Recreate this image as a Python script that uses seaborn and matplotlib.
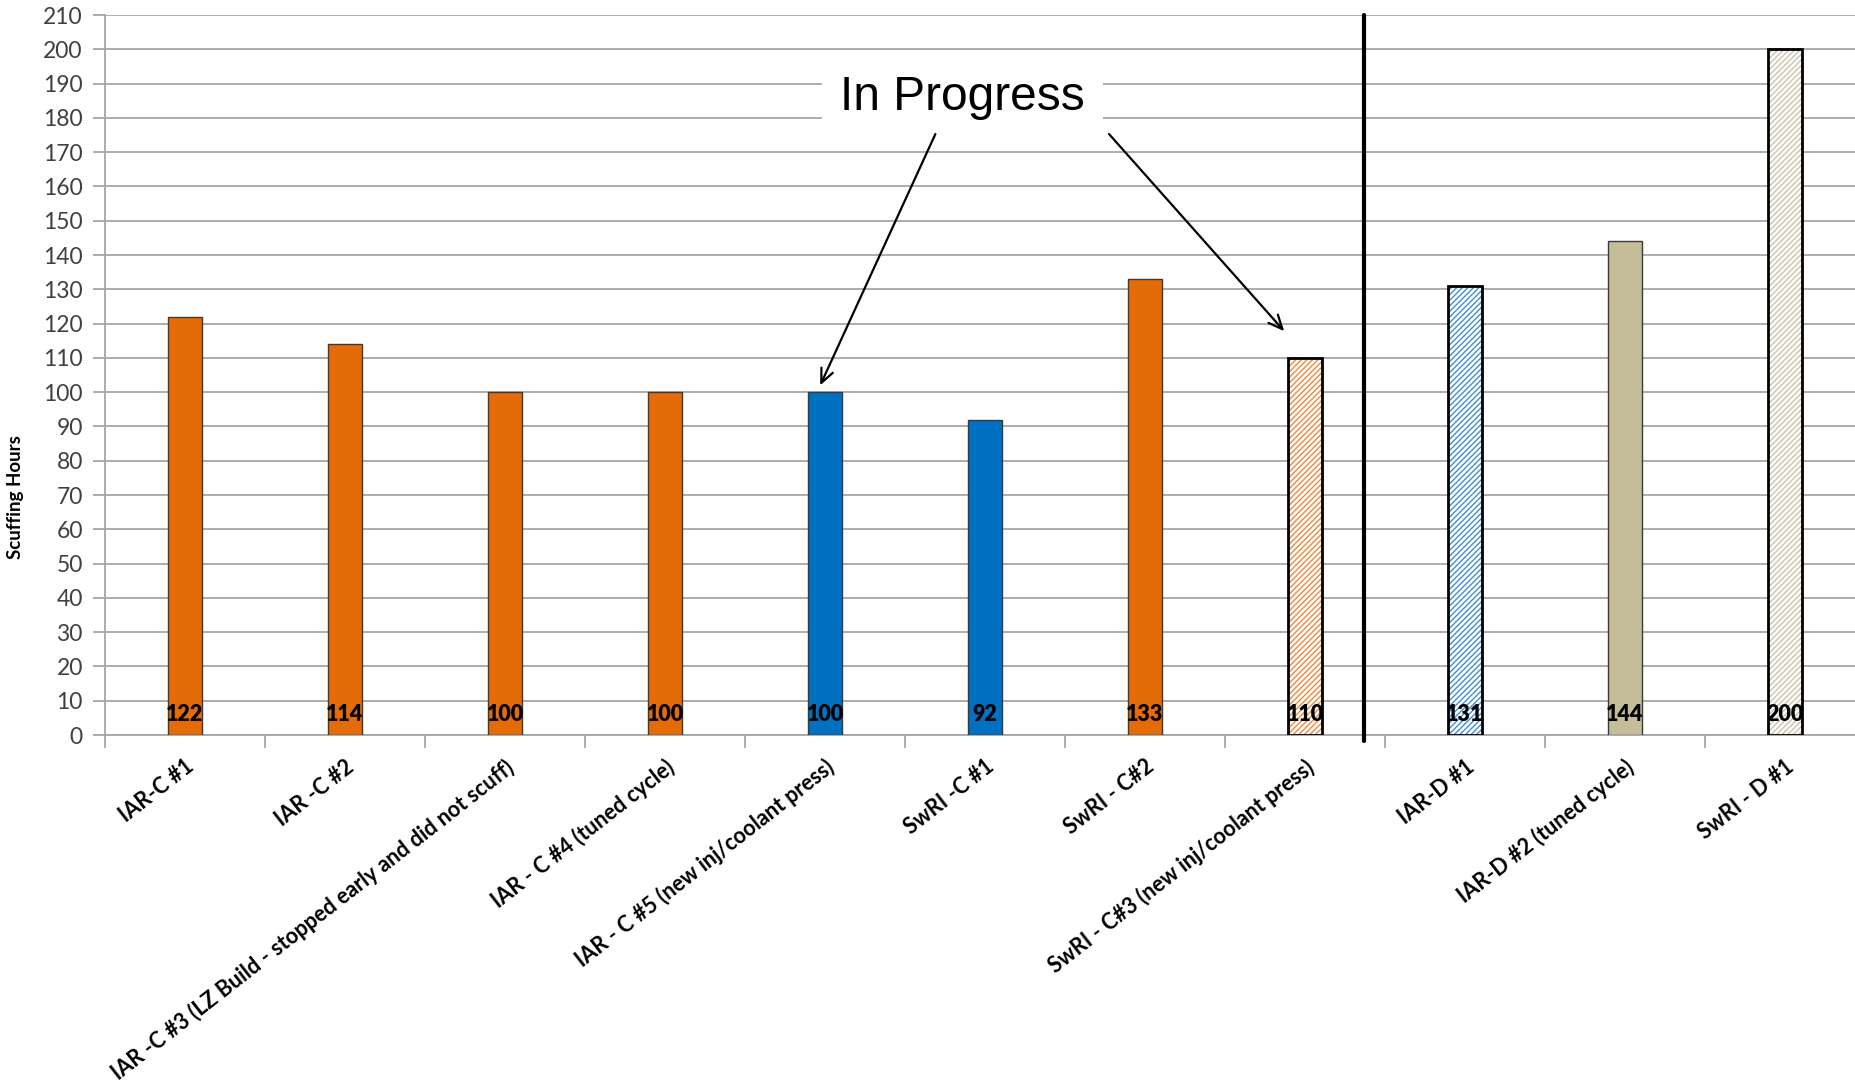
import matplotlib
matplotlib.use("Agg")
import matplotlib.pyplot as plt
from matplotlib.patches import Rectangle
import seaborn as sns
import pandas as pd

categories = [
    "IAR-C #1",
    "IAR -C #2",
    "IAR -C #3 (LZ Build - stopped early and did not scuff)",
    "IAR - C #4 (tuned cycle)",
    "IAR - C #5 (new inj/coolant press)",
    "SwRI -C #1",
    "SwRI - C#2",
    "SwRI - C#3 (new inj/coolant press)",
    "IAR-D #1",
    "IAR-D #2 (tuned cycle)",
    "SwRI - D #1",
]
hours = [122, 114, 100, 100, 100, 92, 133, 110, 131, 144, 200]

fill_colors = ["#E36C09", "#E36C09", "#E36C09", "#E36C09", "#0070C0", "#0070C0",
               "#E36C09", "#FFFFFF", "#FFFFFF", "#C4BD97", "#FFFFFF"]
hatch_colors = [None, None, None, None, None, None, None,
                "#F0883A", "#3F8FD2", None, "#C9C3A8"]

sns.set_style("white")
plt.rcParams["font.family"] = ["Lato", "DejaVu Sans"]
plt.rcParams["hatch.linewidth"] = 1.0

df = pd.DataFrame({"cat": categories, "hours": hours})

fig = plt.figure(figsize=(18.55, 10.88), dpi=100)
ax = fig.add_axes([0.0566, 0.3244, 0.9488, 0.6618])

sns.barplot(data=df, x="cat", y="hours", hue="cat", palette=fill_colors,
            legend=False, width=0.21, saturation=1, ax=ax, zorder=3,
            edgecolor="#3a3a3a", linewidth=1.0)

for patch, hc in zip(ax.patches, hatch_colors):
    if hc is not None:
        patch.set_hatch("//////")
        patch.set_edgecolor(hc)
        patch.set_linewidth(0)
        ax.add_patch(Rectangle((patch.get_x(), patch.get_y()), patch.get_width(),
                               patch.get_height(), fill=False, edgecolor="black",
                               linewidth=2.0, zorder=4))

# value labels near the base of each bar
for i, v in enumerate(hours):
    ax.text(i, 6, f"{v}", ha="center", va="center", fontsize=15.5,
            fontweight="heavy", color="black", zorder=6)

ax.set_ylim(0, 210)
ax.set_xlim(-0.5, len(categories) - 0.5)
ax.set_yticks(range(0, 211, 10))
ax.yaxis.grid(True, color="#A6A6A6", linewidth=1.3, zorder=0)
ax.set_axisbelow(True)

for side in ["top", "right"]:
    ax.spines[side].set_visible(False)
for side in ["left", "bottom"]:
    ax.spines[side].set_color("#A6A6A6")
    ax.spines[side].set_linewidth(1.3)

ax.tick_params(axis="y", which="major", left=True, length=9, width=1.3,
               color="#A6A6A6", labelsize=16.5, labelcolor="#404040", pad=7)
ax.set_xticks([i + 0.5 for i in range(-1, len(categories))], minor=True)
ax.tick_params(axis="x", which="minor", bottom=True, length=9, width=1.3,
               color="#A6A6A6")
ax.tick_params(axis="x", which="major", bottom=False, length=0, pad=15)
ax.set_xticks(range(len(categories)))
ax.set_xticklabels(categories, rotation=38, ha="right", rotation_mode="anchor",
                   fontsize=15.5, fontweight="bold", color="black")

ax.set_xlabel("")
ax.set_ylabel("Scuffing Hours", fontsize=13.5, fontweight="bold", color="black")
ax.yaxis.set_label_coords(-0.046, 0.33)

# divider between the C and D groups
ax.axvline(7.37, ymin=-0.008, ymax=1.0, color="black", linewidth=3, zorder=5,
           clip_on=False)

# "In Progress" callout with arrows
ax.text(4.86, 186.0, "In Progress", fontsize=34.5, family="Liberation Sans",
        ha="center", va="center", color="black", zorder=7,
        bbox=dict(facecolor="white", edgecolor="none", pad=13))
arrow_kw = dict(arrowstyle="->,head_length=1.0,head_width=0.45", color="black",
                linewidth=1.6, shrinkA=0, shrinkB=0)
ax.annotate("", xy=(3.97, 102), xytext=(4.69, 175.3), arrowprops=arrow_kw, zorder=7)
ax.annotate("", xy=(6.87, 117.8), xytext=(5.775, 175.3), arrowprops=arrow_kw, zorder=7)

fig.savefig("out.png", dpi=100)
